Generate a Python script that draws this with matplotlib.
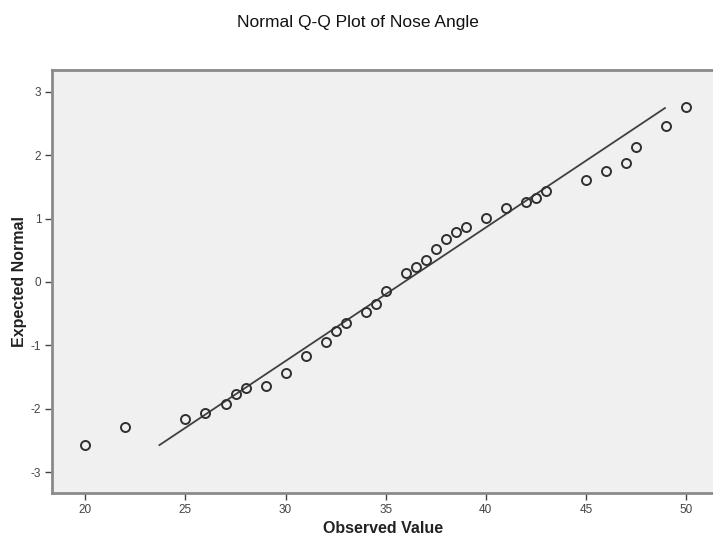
import matplotlib
matplotlib.use("Agg")
import matplotlib.pyplot as plt

plt.rcParams["font.family"] = ["Liberation Sans", "DejaVu Sans"]
plt.rcParams["axes.unicode_minus"] = False

observed = [20, 22, 25, 26, 27, 27.5, 28, 29, 30, 31, 32, 32.5, 33, 34, 34.5, 35,
            36, 36.5, 37, 37.5, 38, 38.5, 39, 40, 41, 42, 42.5, 43, 45, 46, 47,
            47.5, 49, 50]
expected = [-2.57, -2.29, -2.16, -2.07, -1.92, -1.76, -1.67, -1.64, -1.44, -1.17,
            -0.95, -0.78, -0.65, -0.48, -0.34, -0.14, 0.14, 0.24, 0.35, 0.52,
            0.68, 0.79, 0.86, 1.01, 1.16, 1.26, 1.33, 1.44, 1.60, 1.75, 1.87,
            2.12, 2.46, 2.75]

# reference line ends
line_x = [23.7, 48.95]
line_y = [-2.57, 2.74]

xticks = [20, 25, 30, 35, 40, 45, 50]
yticks = [-3, -2, -1, 0, 1, 2, 3]

fig = plt.figure(figsize=(7.13, 5.4), dpi=100)
ax = fig.add_axes([0.0734, 0.0876, 0.9266, 0.7828])
ax.set_facecolor("#f0f0f0")

ax.plot(line_x, line_y, color="#404040", lw=1.3, zorder=2)
ax.plot(observed, expected, "o", mfc="none", mec="#303030", mew=1.4, ms=6.5, zorder=3)

ax.set_xlim(18.35, 51.35)
ax.set_ylim(-3.32, 3.34)
ax.set_xticks(xticks)
ax.set_yticks(yticks)
ax.tick_params(labelsize=8.5, colors="#444444", length=5, width=1, pad=3)

for s in ["top", "left", "bottom"]:
    ax.spines[s].set_color("#8a8a8a")
    ax.spines[s].set_linewidth(2)
ax.spines["right"].set_visible(False)

ax.set_xlabel("Observed Value", fontsize=11.5, fontweight="bold", color="#222222", labelpad=4)
ax.set_ylabel("Expected Normal", fontsize=11.5, fontweight="bold", color="#222222", labelpad=3)
fig.text(0.502, 0.958, "Normal Q-Q Plot of Nose Angle", ha="center", va="center",
         fontsize=12.5, color="#111111")

fig.savefig("out.png", dpi=100)
